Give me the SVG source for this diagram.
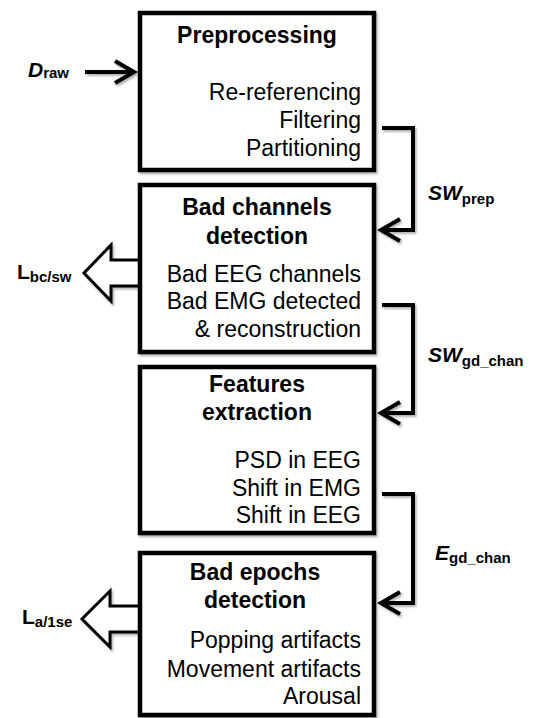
<svg xmlns="http://www.w3.org/2000/svg" width="537" height="718" viewBox="0 0 537 718">
  <defs>
    <filter id="sh" x="-10%" y="-10%" width="130%" height="130%">
      <feDropShadow dx="1.5" dy="2" stdDeviation="1.2" flood-color="#000" flood-opacity="0.3"/>
    </filter>
    <marker id="chev" markerUnits="userSpaceOnUse" orient="auto" overflow="visible" markerWidth="1" markerHeight="1" refX="0" refY="0">
      <path d="M-19,-11 L0,0 L-19,11" fill="none" stroke="#000" stroke-width="4" stroke-linejoin="miter"/>
    </marker>
  </defs>
  <style>
    .box { fill: #fff; stroke: #000; stroke-width: 4.5; }
    .conn { fill: none; stroke: #000; stroke-width: 4; stroke-linejoin: miter; }
    .hollow { fill: #fff; stroke: #000; stroke-width: 3; stroke-linejoin: miter; }
    text { font-family: "Liberation Sans", Arial, sans-serif; fill: #000; }
    .title { font-size: 23px; font-weight: bold; text-anchor: middle; }
    .item { font-size: 23px; text-anchor: end; }
    .lab { font-size: 21px; font-weight: bold; font-style: italic; }
    .labn { font-size: 21px; font-weight: bold; }
    .sub { font-size: 15px; font-weight: bold; font-style: normal; }
  </style>
  <rect width="537" height="718" fill="#fff"/>

  <g id="outputs" filter="url(#sh)">
    <path class="hollow" d="M141,260 H111 V245 L84,273 L111,301 V286 H141"/>
    <path class="hollow" d="M141,606 H110 V591 L82,619 L110,647 V632 H141"/>
  </g>

  <g id="preprocessing" filter="url(#sh)">
    <rect class="box" x="140" y="13" width="234" height="157"/>
  </g>
  <g id="preprocessing-text">
    <text class="title" x="257" y="43">Preprocessing</text>
    <text class="item" x="361" y="100">Re-referencing</text>
    <text class="item" x="361" y="128">Filtering</text>
    <text class="item" x="361" y="156">Partitioning</text>
  </g>

  <g id="bad-channels" filter="url(#sh)">
    <rect class="box" x="140" y="185" width="234" height="167"/>
  </g>
  <g id="bad-channels-text">
    <text class="title" x="257" y="215">Bad channels</text>
    <text class="title" x="257" y="244">detection</text>
    <text class="item" x="361" y="282">Bad EEG channels</text>
    <text class="item" x="361" y="309">Bad EMG detected</text>
    <text class="item" x="361" y="337">&amp; reconstruction</text>
  </g>

  <g id="features" filter="url(#sh)">
    <rect class="box" x="140" y="367" width="234" height="166"/>
  </g>
  <g id="features-text">
    <text class="title" x="257" y="392">Features</text>
    <text class="title" x="257" y="420">extraction</text>
    <text class="item" x="361" y="468">PSD in EEG</text>
    <text class="item" x="361" y="496">Shift in EMG</text>
    <text class="item" x="361" y="523">Shift in EEG</text>
  </g>

  <g id="bad-epochs" filter="url(#sh)">
    <rect class="box" x="140" y="553" width="234" height="162"/>
  </g>
  <g id="bad-epochs-text">
    <text class="title" x="255" y="580">Bad epochs</text>
    <text class="title" x="255" y="608">detection</text>
    <text class="item" x="361" y="648">Popping artifacts</text>
    <text class="item" x="361" y="677">Movement artifacts</text>
    <text class="item" x="361" y="704">Arousal</text>
  </g>

  <g id="connectors" filter="url(#sh)">
    <path class="conn" d="M85,72 H134" marker-end="url(#chev)"/>
    <path class="conn" d="M382,128 H413 V230 H381" marker-end="url(#chev)"/>
    <path class="conn" d="M382,305 H413 V413 H381" marker-end="url(#chev)"/>
    <path class="conn" d="M382,494 H413 V603 H381" marker-end="url(#chev)"/>
  </g>

  <g id="labels">
    <text class="lab" x="28" y="77">D<tspan class="sub" dy="1">raw</tspan></text>
    <text class="lab" x="428" y="200">SW<tspan class="sub" dy="4">prep</tspan></text>
    <text class="lab" x="428" y="362">SW<tspan class="sub" dy="4">gd_chan</tspan></text>
    <text class="lab" x="435" y="560">E<tspan class="sub" dy="3">gd_chan</tspan></text>
    <text class="labn" x="17" y="279">L<tspan class="sub" dy="3">bc/sw</tspan></text>
    <text class="labn" x="22" y="624">L<tspan class="sub" dy="3">a/1se</tspan></text>
  </g>
</svg>
